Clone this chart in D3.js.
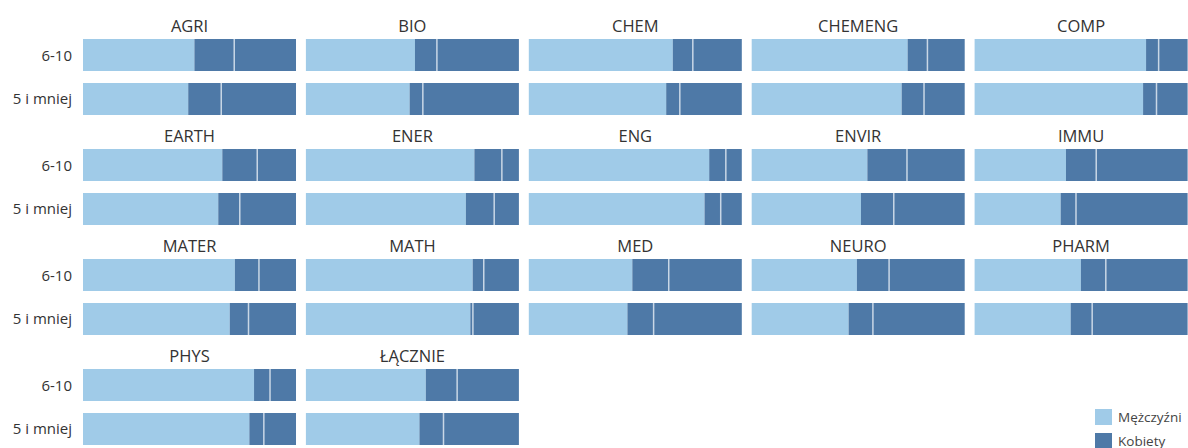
<!DOCTYPE html>
<html>
<head>
<meta charset="utf-8">
<script src="https://cdn.jsdelivr.net/npm/d3@7"></script>
<style>
  body { margin: 0; background: #fff; }
  text { font-family: "Open Sans", sans-serif; fill: #333; }
</style>
</head>
<body>
<svg id="chart"></svg>
<script>
// Dane: udział mężczyzn (%) i położenie linii w części kobiet (%)
const dziedziny = ["AGRI", "BIO", "CHEM", "CHEMENG", "COMP",
                   "EARTH", "ENER", "ENG", "ENVIR", "IMMU",
                   "MATER", "MATH", "MED", "NEURO", "PHARM",
                   "PHYS", "ŁĄCZNIE"];
const grupy = ["6-10", "5 i mniej"];
const mezczyzni610 = [52.3, 51.2, 67.6, 73.2, 80.5, 65.4, 79.1, 84.7, 54.3, 42.9, 71.3, 78.3, 48.6, 49.4, 49.9, 80.3, 56.3];
const linia610     = [71.0, 61.5, 77.0, 82.5, 86.4, 81.8, 92.0, 92.5, 72.9, 57.1, 82.6, 83.5, 65.7, 64.5, 61.6, 87.8, 71.0];
const mezczyzni5   = [49.4, 48.7, 64.5, 70.4, 79.1, 63.5, 75.1, 82.5, 51.3, 40.4, 68.9, 77.2, 46.3, 45.5, 45.1, 78.1, 53.3];
const linia5       = [64.9, 54.9, 70.9, 80.9, 85.4, 73.6, 88.4, 90.1, 66.7, 47.6, 77.7, 78.4, 58.6, 56.9, 55.2, 84.9, 64.6];
const serie = ["Mężczyźni", "Kobiety"];
const kolory = ["#a0cbe8", "#4e79a7"];

const W = 1188, H = 448;
const svg = d3.select("#chart").attr("width", W).attr("height", H);

const ncol = 5;
const colScale = d3.scaleBand().domain(d3.range(ncol)).range([83, 1187.6]).paddingInner(0.0444).paddingOuter(0);
const rowTop = r => 39 + r * 110;
const yScale = d3.scaleBand().domain(grupy).range([0, 76]).paddingInner(0.2727).paddingOuter(0);
const xScale = d3.scaleLinear().domain([0, 100]).range([0, colScale.bandwidth()]);
const color = d3.scaleOrdinal().domain(serie).range(kolory);

const panels = dziedziny.map((d, i) => ({
  name: d,
  col: i % ncol,
  row: Math.floor(i / ncol),
  bars: [
    { grupa: grupy[0], m: mezczyzni610[i], linia: linia610[i] },
    { grupa: grupy[1], m: mezczyzni5[i], linia: linia5[i] }
  ]
}));

const stack = d3.stack().keys(serie);

const g = svg.selectAll("g.panel").data(panels).join("g")
  .attr("class", "panel")
  .attr("transform", d => `translate(${colScale(d.col)}, ${rowTop(d.row)})`);

// tytuł panelu
g.append("text")
  .attr("x", colScale.bandwidth() / 2)
  .attr("y", -7)
  .attr("text-anchor", "middle")
  .style("font-size", "16.5px")
  .text(d => d.name);

// słupki skumulowane
g.each(function(p) {
  const rows = p.bars.map(b => ({ grupa: b.grupa, "Mężczyźni": b.m, "Kobiety": 100 - b.m }));
  const layers = stack(rows);
  const pg = d3.select(this);
  pg.selectAll("g.layer").data(layers).join("g")
    .attr("class", "layer")
    .attr("fill", l => color(l.key))
    .selectAll("rect").data(l => l).join("rect")
      .attr("x", s => xScale(s[0]))
      .attr("width", s => xScale(s[1]) - xScale(s[0]))
      .attr("y", s => yScale(s.data.grupa))
      .attr("height", yScale.bandwidth());
  pg.selectAll("rect.linia").data(p.bars).join("rect")
    .attr("class", "linia")
    .attr("x", b => xScale(b.linia) - 0.75)
    .attr("width", 1.5)
    .attr("y", b => yScale(b.grupa))
    .attr("height", yScale.bandwidth())
    .attr("fill", "#c9d7e6");
});

// etykiety grup w pierwszej kolumnie
const nrows = Math.ceil(dziedziny.length / ncol);
d3.range(nrows).forEach(r => {
  svg.append("g")
    .attr("transform", `translate(72, ${rowTop(r)})`)
    .selectAll("text").data(grupy).join("text")
      .attr("x", 0)
      .attr("y", d => yScale(d) + yScale.bandwidth() / 2 + 5.5)
      .attr("text-anchor", "end")
      .style("font-size", "15px")
      .text(d => d);
});

// legenda
const leg = svg.append("g").attr("transform", "translate(1095, 409)");
const li = leg.selectAll("g").data(serie).join("g")
  .attr("transform", (d, i) => `translate(0, ${i * 24})`);
li.append("rect").attr("width", 17).attr("height", 16).attr("fill", d => color(d));
li.append("text").attr("x", 23).attr("y", 13).style("font-size", "13.5px").style("fill", "#444").text(d => d);
</script>
</body>
</html>
